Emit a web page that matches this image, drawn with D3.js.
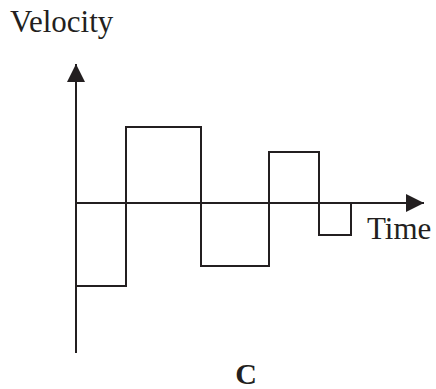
<!DOCTYPE html>
<html>
<head>
<meta charset="utf-8">
<script src="https://cdn.jsdelivr.net/npm/d3@7"></script>
<style>
  body { margin: 0; background: #fff; }
  svg text { font-family: "Liberation Serif", "DejaVu Serif", serif; fill: #231f20; }
</style>
</head>
<body>
<svg id="chart" width="436" height="389"></svg>
<script>
// step boundaries along time (arbitrary units) and velocity of each step
var step_times = [0, 1, 2.5, 3.85, 4.85, 5.5];
var step_velocity = [-0.55, 0.51, -0.42, 0.34, -0.21];
var axis_labels = {"x": "Time", "y": "Velocity", "caption": "C"};

var ink = "#231f20";
var svg_canvas = d3.select("#chart");

var x_scale = d3.scaleLinear().domain([0, 7]).range([76, 426]);
var y_scale = d3.scaleLinear().domain([-1, 1]).range([353, 53]);

// arrow heads
var defs = svg_canvas.append("defs");
defs.append("marker").attr("id", "arrow_head")
   .attr("viewBox", "0 0 10 10").attr("refX", 10).attr("refY", 5)
   .attr("markerUnits", "userSpaceOnUse")
   .attr("markerWidth", 18).attr("markerHeight", 19)
   .attr("orient", "auto")
   .append("path").attr("d", "M0,0 L10,5 L0,10 Z").attr("fill", ink);

// y axis (velocity)
svg_canvas.append("line")
   .attr("x1", x_scale(0)).attr("x2", x_scale(0))
   .attr("y1", y_scale(-1)).attr("y2", y_scale(0.927))
   .attr("stroke", ink).attr("stroke-width", 2)
   .attr("marker-end", "url(#arrow_head)");

// x axis (time)
svg_canvas.append("line")
   .attr("x1", x_scale(0)).attr("x2", x_scale(6.96))
   .attr("y1", y_scale(0)).attr("y2", y_scale(0))
   .attr("stroke", ink).attr("stroke-width", 2)
   .attr("marker-end", "url(#arrow_head)");

// step function
var step_points = [];
step_velocity.forEach(function(v, i) {
   step_points.push([step_times[i], v]);
   step_points.push([step_times[i + 1], v]);
});
step_points.push([step_times[step_times.length - 1], 0]);

var step_line = d3.line()
   .x(function(d) { return x_scale(d[0]); })
   .y(function(d) { return y_scale(d[1]); });

svg_canvas.append("path")
   .datum([[0, 0]].concat(step_points))
   .attr("d", step_line)
   .attr("fill", "none").attr("stroke", ink).attr("stroke-width", 2)
   .attr("stroke-linejoin", "miter").attr("shape-rendering", "crispEdges");

// labels
svg_canvas.append("text").text(axis_labels.y)
   .attr("x", 10).attr("y", 32).style("font-size", "31px");
svg_canvas.append("text").text(axis_labels.x)
   .attr("x", 367).attr("y", 239).style("font-size", "31px");
svg_canvas.append("text").text(axis_labels.caption)
   .attr("x", 246).attr("y", 384).attr("text-anchor", "middle")
   .style("font-size", "30px").style("font-weight", "bold");
</script>
</body>
</html>
